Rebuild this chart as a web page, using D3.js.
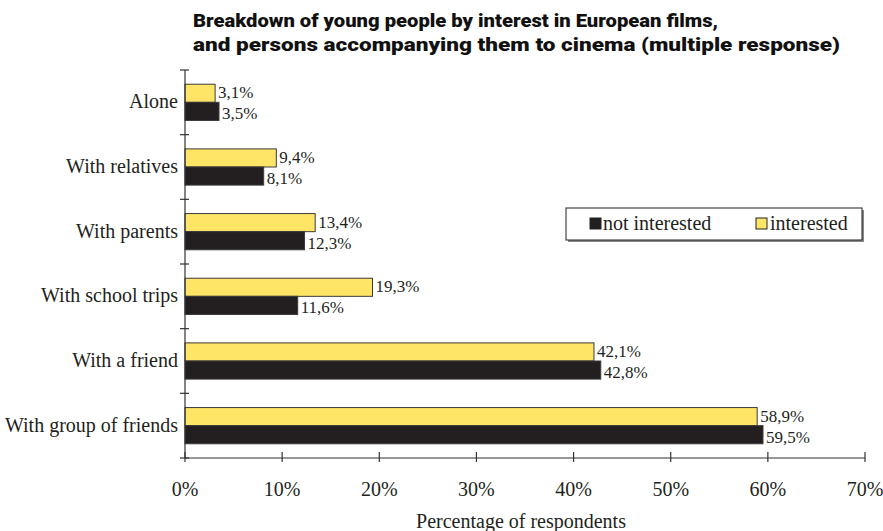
<!DOCTYPE html>
<html>
<head>
<meta charset="utf-8">
<script src="https://cdn.jsdelivr.net/npm/d3@7"></script>
<style>
	body { margin: 0; background: #fff; }
	svg { display: block; }
	.serif { font-family: "Liberation Serif", "DejaVu Serif", serif; fill: #231f20; }
	.title { font-family: Roboto, "Liberation Sans", Arial, sans-serif; font-weight: 900; font-size: 19px; fill: #111; }
</style>
</head>
<body>
<svg id="chart"></svg>
<script>
var categories = ['Alone', 'With relatives', 'With parents', 'With school trips', 'With a friend', 'With group of friends'];
var interested = [3.1, 9.4, 13.4, 19.3, 42.1, 58.9];
var notInterested = [3.5, 8.1, 12.3, 11.6, 42.8, 59.5];
var xTicks = [0, 10, 20, 30, 40, 50, 60, 70];
var seriesNames = ['not interested', 'interested'];

var width = 883, height = 531;
var margin = {top: 70, right: 18, bottom: 73, left: 185};

var svg = d3.select('#chart').attr('width', width).attr('height', height);

var x = d3.scaleLinear().domain([0, 70]).range([margin.left, width - margin.right]);
var y = d3.scaleBand().domain(categories).range([margin.top, height - margin.bottom]).paddingInner(0.44).paddingOuter(0.22);

var yellow = '#ffe566', black = '#231f20';
var fmt = function(v) { return v.toFixed(1).replace('.', ',') + '%'; };

// title
var title = svg.append('text').attr('class', 'title');
title.append('tspan').attr('x', 193).attr('y', 27)
	.attr('textLength', 525).attr('lengthAdjust', 'spacingAndGlyphs')
	.text('Breakdown of young people by interest in European films,');
title.append('tspan').attr('x', 193).attr('y', 51)
	.attr('textLength', 647).attr('lengthAdjust', 'spacingAndGlyphs')
	.text('and persons accompanying them to cinema (multiple response)');

// bars
var bh = y.bandwidth() / 2;
var rows = categories.map(function(c, i) { return {cat: c, yes: interested[i], no: notInterested[i]}; });

var g = svg.append('g');
rows.forEach(function(d) {
	g.append('rect')
		.attr('x', x(0)).attr('y', y(d.cat))
		.attr('width', x(d.yes) - x(0)).attr('height', bh)
		.attr('fill', yellow).attr('stroke', '#3a3a3a').attr('stroke-width', 1);
	g.append('rect')
		.attr('x', x(0)).attr('y', y(d.cat) + bh)
		.attr('width', x(d.no) - x(0)).attr('height', bh)
		.attr('fill', black).attr('stroke', '#3a3a3a').attr('stroke-width', 1);
	g.append('text').attr('class', 'serif')
		.attr('x', x(d.yes) + 3).attr('y', y(d.cat) + bh / 2 + 5)
		.attr('font-size', 17).text(fmt(d.yes));
	g.append('text').attr('class', 'serif')
		.attr('x', x(d.no) + 3).attr('y', y(d.cat) + bh * 1.5 + 8)
		.attr('font-size', 17).text(fmt(d.no));
});

// y axis
var axisY = svg.append('g');
axisY.append('line')
	.attr('x1', x(0)).attr('x2', x(0))
	.attr('y1', margin.top).attr('y2', height - margin.bottom)
	.attr('stroke', '#333').attr('stroke-width', 1.2);
var step = (height - margin.bottom - margin.top) / categories.length;
d3.range(categories.length + 1).forEach(function(i) {
	axisY.append('line')
		.attr('x1', x(0) - 5).attr('x2', x(0) + 4)
		.attr('y1', margin.top + i * step).attr('y2', margin.top + i * step)
		.attr('stroke', '#333').attr('stroke-width', 1.2);
});
axisY.selectAll('text.cat').data(categories).enter().append('text')
	.attr('class', 'serif cat')
	.attr('x', x(0) - 7)
	.attr('y', function(d) { return y(d) + y.bandwidth() / 2 + 6; })
	.attr('text-anchor', 'end').attr('font-size', 20)
	.text(function(d) { return d; });

// x axis
var axisX = svg.append('g').attr('transform', 'translate(0,' + (height - margin.bottom) + ')');
axisX.append('line')
	.attr('x1', x(0)).attr('x2', x(70))
	.attr('stroke', '#333').attr('stroke-width', 1.2);
axisX.selectAll('line.tick').data(xTicks).enter().append('line')
	.attr('class', 'tick')
	.attr('x1', function(d) { return x(d); }).attr('x2', function(d) { return x(d); })
	.attr('y1', -6).attr('y2', 4)
	.attr('stroke', '#333').attr('stroke-width', 1.2);
axisX.selectAll('text').data(xTicks).enter().append('text')
	.attr('class', 'serif')
	.attr('x', function(d) { return x(d); }).attr('y', 38)
	.attr('text-anchor', 'middle').attr('font-size', 20)
	.text(function(d) { return d + '%'; });

svg.append('text').attr('class', 'serif')
	.attr('x', 521).attr('y', 528)
	.attr('text-anchor', 'middle').attr('font-size', 20)
	.text('Percentage of respondents');

// legend
var leg = svg.append('g').attr('transform', 'translate(566,208)');
leg.append('rect').attr('x', 2).attr('y', 2).attr('width', 296).attr('height', 32).attr('fill', '#888');
leg.append('rect').attr('width', 296).attr('height', 32).attr('fill', '#fff').attr('stroke', '#222').attr('stroke-width', 1);
leg.append('rect').attr('x', 24).attr('y', 10).attr('width', 11).attr('height', 11).attr('fill', black).attr('stroke', '#222');
leg.append('text').attr('class', 'serif').attr('x', 37).attr('y', 22).attr('font-size', 20).text(seriesNames[0]);
leg.append('rect').attr('x', 190).attr('y', 10).attr('width', 11).attr('height', 11).attr('fill', yellow).attr('stroke', '#222');
leg.append('text').attr('class', 'serif').attr('x', 204).attr('y', 22).attr('font-size', 20).text(seriesNames[1]);
</script>
</body>
</html>
